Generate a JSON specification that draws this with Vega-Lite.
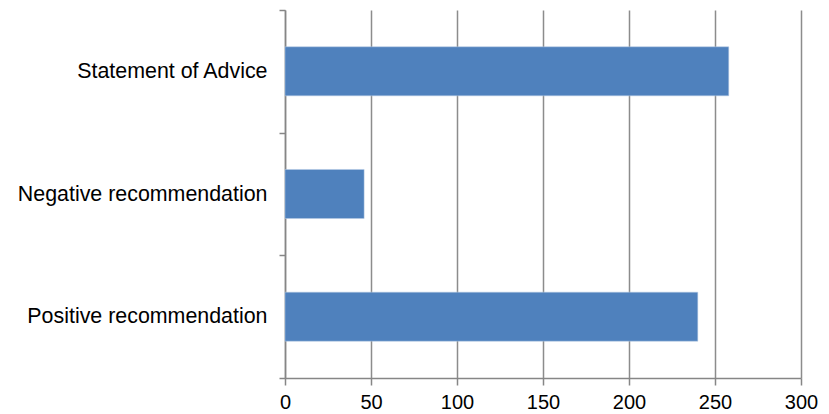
{
  "$schema": "https://vega.github.io/schema/vega-lite/v6.json",
  "autosize": {"type": "none"},
  "width": 516,
  "height": 368,
  "padding": {"left": 285, "top": 10, "right": 28, "bottom": 36},
  "background": "white",
  "data": {"values": [
    {"category": "Statement of Advice", "value": 258},
    {"category": "Negative recommendation", "value": 46},
    {"category": "Positive recommendation", "value": 240}
  ]},
  "mark": {"type": "bar", "color": "#4F81BD", "stroke": "#B9CDE5", "strokeWidth": 0.5, "height": {"band": 0.4}},
  "encoding": {
    "y": {
      "field": "category", "type": "nominal",
      "sort": ["Statement of Advice", "Negative recommendation", "Positive recommendation"],
      "scale": {"paddingInner": 0, "paddingOuter": 0},
      "axis": {
        "title": null, "labelFont": "Liberation Sans", "labelFontSize": 21.4, "labelColor": "#000000",
        "labelPadding": 12, "labelLimit": 400, "domainColor": "#868686", "domainWidth": 1.5,
        "tickColor": "#868686", "tickWidth": 1.5, "tickSize": 6, "tickBand": "extent",
        "grid": false
      }
    },
    "x": {
      "field": "value", "type": "quantitative",
      "scale": {"domain": [0, 300], "nice": false},
      "axis": {
        "title": null, "values": [0, 50, 100, 150, 200, 250, 300],
        "labelFont": "Liberation Sans", "labelFontSize": 20, "labelColor": "#000000",
        "labelPadding": 7, "labelFlush": false, "domainColor": "#868686", "domainWidth": 1.5,
        "tickColor": "#868686", "tickWidth": 1.5, "tickSize": 7,
        "grid": true, "gridColor": "#8c8c8c", "gridWidth": 1.5
      }
    }
  },
  "config": {"view": {"stroke": null}}
}
